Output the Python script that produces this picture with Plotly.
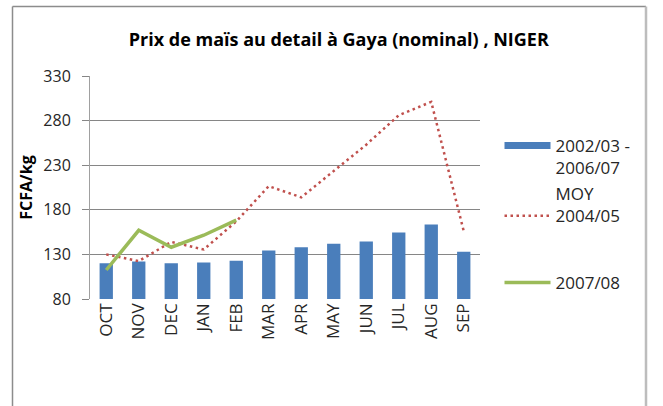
import plotly.graph_objects as go

months = ["OCT", "NOV", "DEC", "JAN", "FEB", "MAR", "APR", "MAY", "JUN", "JUL", "AUG", "SEP"]
avg_0203_0607 = [120, 122, 120, 121, 123, 134.5, 138, 142, 144.5, 154.5, 163.5, 133]
moy_0405 = [130, 122.5, 144, 135.5, 167, 206.5, 194, 223, 253, 286, 301, 156]
season_0708 = [112.5, 157, 138, 151.5, 168.5]
y_ticks = [80, 130, 180, 230, 280, 330]

FONT = "Open Sans"
TXT = "#262626"

fig = go.Figure()
fig.add_bar(x=months, y=avg_0203_0607, name="2002/03 -<br>2006/07",
            marker=dict(color="#4a7ebb", line=dict(width=0)), showlegend=False)
# legend key for the bars (wide blue bar as in the original)
fig.add_scatter(x=[None], y=[None], mode="lines", name="2002/03 -<br>2006/07",
                line=dict(color="#4a7ebb", width=7), legend="legend")
fig.add_scatter(x=months, y=moy_0405, mode="lines", name="MOY<br>2004/05",
                line=dict(color="#c0504d", width=2.5, dash="2.5px,3.5px"), legend="legend2")
fig.add_scatter(x=months[:len(season_0708)], y=season_0708, mode="lines", name="2007/08",
                line=dict(color="#9bbb59", width=3.5), legend="legend3")

leg = dict(xanchor="left", yanchor="middle", bgcolor="rgba(0,0,0,0)",
           font=dict(family=FONT, size=17, color=TXT), itemwidth=46)
fig.update_layout(
    width=663, height=406,
    margin=dict(l=90, r=183, t=76, b=107),
    paper_bgcolor="white", plot_bgcolor="white",
    bargap=0.59,
    title=dict(text="<b>Prix de maïs au detail à Gaya (nominal) , NIGER</b>",
               x=0.511, y=0.9015, xanchor="center", yanchor="middle",
               font=dict(family=FONT, size=18, color="black")),
    legend=dict(leg, x=1.05, y=(299 - 157) / 223, valign="top"),
    legend2=dict(leg, x=1.05, y=(299 - 205) / 223, valign="bottom"),
    legend3=dict(leg, x=1.05, y=(299 - 283) / 223, valign="middle"),
    xaxis=dict(tickangle=-90, showline=False, ticks="",
               tickfont=dict(family=FONT, size=17, color=TXT)),
    yaxis=dict(range=[80, 330], tickvals=y_ticks, showgrid=True, gridcolor="#868686",
               gridwidth=1, showline=True, linecolor="#a0a0a0", ticks="outside",
               ticklen=7, tickcolor="#868686", zeroline=False, ticklabelstandoff=8,
               tickfont=dict(family=FONT, size=16, color=TXT),
               title=dict(text="<b>FCFA/kg</b>", standoff=6,
                          font=dict(family=FONT, size=16, color="black"))),
)

# chart frame (right edge kept inside the visible part of the window)
fx0, fx1 = (12.5 - 90) / 390, (646 - 90) / 390
fy1 = (299 - 6.5) / 223
fig.add_shape(type="line", xref="paper", yref="paper", x0=fx0, x1=fx0, y0=-0.6, y1=fy1,
              line=dict(color="#8c8c8c", width=1.5))
fig.add_shape(type="line", xref="paper", yref="paper", x0=fx0, x1=fx1, y0=fy1, y1=fy1,
              line=dict(color="#8c8c8c", width=1.5))
fig.add_shape(type="line", xref="paper", yref="paper", x0=fx1, x1=fx1, y0=-0.6, y1=fy1,
              line=dict(color="#bdbdbd", width=2.5))

# the page's default 8px body margin (and its scrollbar) would shift/clip the figure
fig.write_html("out.html", config={"displayModeBar": False},
               post_script="document.body.style.margin='0';"
                           "document.body.style.overflow='hidden';")
